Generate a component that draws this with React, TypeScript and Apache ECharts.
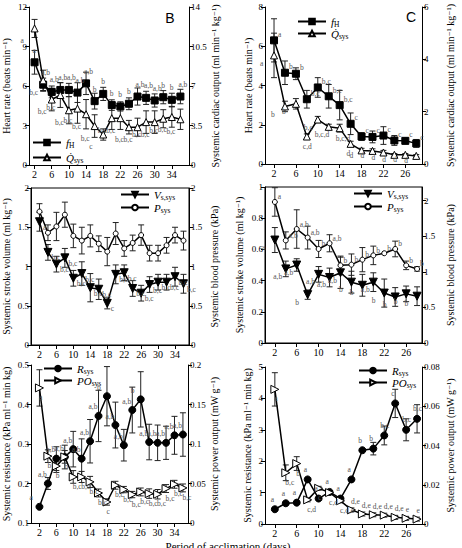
import React, { useEffect, useRef } from "react";
import * as echarts from "echarts";

// Sampling days
const daysLong = [2, 4, 6, 8, 10, 12, 14, 16, 18, 20, 22, 24, 26, 28, 30, 32, 34, 36];
const daysShort = [2, 4, 6, 8, 10, 12, 14, 16, 18, 20, 22, 24, 26, 28];
const tickDaysLong = [2, 6, 10, 14, 18, 22, 26, 30, 34];
const tickDaysShort = [2, 6, 10, 14, 18, 22, 26];

// Panel B: heart rate and cardiac output
const fhB = [7.8, 6.1, 5.55, 5.7, 5.7, 5.5, 6.2, 4.85, 5.4, 4.55, 4.45, 4.65, 5.2, 5.1, 4.9, 5.15, 4.95, 5.2];
const fhBse = [0.9, 0.5, 0.45, 0.55, 0.5, 0.75, 0.85, 0.6, 0.5, 0.4, 0.35, 0.45, 0.65, 0.5, 0.5, 0.5, 0.5, 0.55];
const fhBsig = ["a", "a,b", "a,b", "a,b", "a,b", "a,b", "a,b", "b", "b", "b", "b", "b", "a,b", "a,b", "a,b", "b", "b", "a,b"];
const qB = [12.1, 7.5, 5.8, 6.2, 4.85, 5.0, 4.5, 3.45, 2.7, 4.15, 4.15, 3.35, 3.35, 3.8, 3.8, 4.1, 4.25, 4.05];
const qBse = [0.8, 0.9, 1.0, 1.1, 1.2, 1.3, 1.3, 1.0, 0.5, 1.0, 1.0, 0.6, 0.8, 1.0, 1.0, 0.8, 0.9, 0.9];
const qBsig = ["a", "b,c", "b,c", "b,c", "b,c", "b,c", "b,c", "b,c", "c", "b,c", "b,c", "b,c", "b,c", "b,c", "b,c", "b,c", "b,c", "b,c"];

// Panel C: heart rate and cardiac output
const fhC = [6.3, 4.65, 4.6, 3.3, 3.9, 3.45, 3.0, 2.05, 1.4, 1.38, 1.45, 1.2, 1.18, 1.05];
const fhCse = [1.1, 0.6, 0.3, 0.45, 0.5, 0.6, 0.75, 0.55, 0.2, 0.3, 0.45, 0.25, 0.15, 0.2];
const fhCsig = ["a", "b", "b", "b,c", "b,c", "b,c", "b,c", "c", "c", "c", "c", "c", "c", "c"];
const qC = [4.15, 2.2, 2.3, 1.05, 1.7, 1.42, 1.37, 0.77, 0.52, 0.5, 0.44, 0.35, 0.35, 0.31];
const qCse = [0.85, 0.2, 0.2, 0.1, 0.12, 0.1, 0.15, 0.1, 0.08, 0.08, 0.08, 0.05, 0.05, 0.05];
const qCsig = ["a", "b", "b", "c,d", "b,c", "b,c,d", "b,c,d", "d", "d", "d", "d", "d", "d", "d"];

// Stroke volume and blood pressure (left column)
const vsL = [1.57, 1.18, 1.03, 1.11, 0.85, 0.91, 0.73, 0.71, 0.53, 0.9, 0.92, 0.72, 0.66, 0.77, 0.8, 0.8, 0.87, 0.78];
const vsLse = [0.12, 0.1, 0.1, 0.12, 0.1, 0.15, 0.18, 0.13, 0.07, 0.12, 0.1, 0.1, 0.1, 0.1, 0.1, 0.1, 0.12, 0.12];
const vsLsig = ["a", "b,c", "b,c", "b,c", "b,c", "b,c", "b,c", "b,c", "c", "b,c", "b,c", "b,c", "b,c", "b,c", "b,c", "b,c", "b,c", "b,c"];
const psL = [1.7, 1.43, 1.51, 1.66, 1.39, 1.33, 1.39, 1.29, 1.19, 1.42, 1.23, 1.3, 1.4, 1.17, 1.17, 1.27, 1.4, 1.33];
const psLse = [0.1, 0.1, 0.18, 0.16, 0.15, 0.17, 0.14, 0.1, 0.18, 0.14, 0.1, 0.1, 0.13, 0.1, 0.1, 0.1, 0.1, 0.12];

// Stroke volume and blood pressure (right column)
const vsR = [0.66, 0.475, 0.5, 0.31, 0.44, 0.42, 0.45, 0.39, 0.37, 0.39, 0.32, 0.295, 0.315, 0.3];
const vsRse = [0.08, 0.05, 0.04, 0.03, 0.05, 0.06, 0.1, 0.07, 0.07, 0.06, 0.09, 0.06, 0.05, 0.06];
const vsRsig = ["a", "a,b", "a,b", "b", "a,b", "a,b", "a,b", "b", "b", "a,b", "b", "b", "b", "b"];
const psR = [1.98, 1.44, 1.6, 1.48, 1.32, 1.4, 1.09, 1.1, 1.17, 1.23, 1.26, 1.32, 1.09, 1.04];
const psRse = [0.2, 0.12, 0.27, 0.16, 0.12, 0.12, 0.13, 0.15, 0.17, 0.13, 0.0, 0.11, 0.06, 0.03];
const psRsig = ["a", "a,b", "a,b", "a,b", "b", "a,b", "b", "b", "b", "b", "b", "b", "b", "b"];

// Resistance and power output (left column)
const rL = [0.141, 0.2, 0.263, 0.267, 0.287, 0.263, 0.307, 0.371, 0.421, 0.348, 0.297, 0.386, 0.413, 0.305, 0.303, 0.303, 0.322, 0.324];
const rLse = [0.0, 0.015, 0.03, 0.03, 0.045, 0.05, 0.055, 0.065, 0.075, 0.058, 0.04, 0.058, 0.07, 0.045, 0.045, 0.042, 0.048, 0.055];
const rLsig = ["a", "a,b", "a,b", "a,b", "a,b", "a,b", "a,b", "a,b", "b", "a,b", "a,b", "a,b", "b", "a,b", "a,b", "a,b", "a,b", "a,b"];
const poL = [0.171, 0.0846, 0.072, 0.0837, 0.0583, 0.0583, 0.052, 0.038, 0.0266, 0.0478, 0.0423, 0.036, 0.0393, 0.0372, 0.0364, 0.0436, 0.049, 0.0444];
const poLse = [0.023, 0.008, 0.008, 0.008, 0.008, 0.007, 0.007, 0.005, 0.004, 0.005, 0.004, 0.004, 0.005, 0.006, 0.006, 0.005, 0.005, 0.005];
const poLsig = ["a", "b", "b", "b", "b,c", "b,c", "b,c", "b,c", "c", "b,c", "b,c", "b,c", "b,c", "b,c", "b,c", "b,c", "b,c", "b,c"];

// Resistance and power output (right column)
const rR = [0.47, 0.66, 0.68, 1.42, 0.81, 1.02, 0.81, 1.42, 2.35, 2.4, 2.82, 3.84, 3.0, 3.35];
const rRse = [0.05, 0.05, 0.05, 0.05, 0.05, 0.05, 0.05, 0.05, 0.05, 0.2, 0.3, 0.45, 0.35, 0.45];
const rRsig = ["a", "a", "a", "a", "a", "a", "a", "a", "b", "b", "b,c", "c", "b,c", "b,c"];
const poR = [0.0686, 0.0261, 0.0308, 0.0123, 0.0182, 0.016, 0.0118, 0.0072, 0.0051, 0.0047, 0.0045, 0.0034, 0.0029, 0.0025];
const poRse = [0.0085, 0.004, 0.0035, 0.001, 0.001, 0.001, 0.001, 0.001, 0.001, 0.001, 0.001, 0.001, 0.001, 0.001];
const poRsig = ["a", "b,c", "b", "c,d", "c", "c,d", "c,d,e", "d,e", "d,e", "d,e", "d,e", "d,e", "e", "e"];

const SERIF = "'Liberation Serif', 'DejaVu Serif', serif";

const SYM = {
  square: { symbol: "rect", size: 7, fill: "#000" },
  openTri: { symbol: "triangle", size: 7, fill: "#fff" },
  downTri: { symbol: "path://M0,0L10,0L5,9Z", size: 8, fill: "#000" },
  openDot: { symbol: "circle", size: 5, fill: "#fff" },
  dot: { symbol: "circle", size: 7, fill: "#000" },
  rightTri: { symbol: "path://M0,0L9,5L0,10Z", size: 8, fill: "#fff" },
};

const LEGEND_TEXT: Record<string, string> = {
  fH: "{i|f}{s|H}",
  Qsys: "{i|Q\u0307}{s|sys}",
  Vs: "{i|V}{s|s,sys}",
  Psys: "{i|P}{s|sys}",
  Rsys: "{i|R}{s|sys}",
  POsys: "{i|PO}{s|sys}",
};

type LabelPlacement = number[] | string | ((y: number) => number[]);

function lineSeries(
  name: string,
  xs: number[],
  ys: number[],
  sym: { symbol: string; size: number; fill: string },
  panel: number,
  axis: number,
  letters: string[] | null,
  labelPos: LabelPlacement
) {
  // Letters of low-lying points can be moved so they stay clear of neighbours.
  const data = xs.map((x, i) =>
    typeof labelPos === "function"
      ? { value: [x, ys[i]], label: { position: labelPos(ys[i]) } }
      : [x, ys[i]]
  );
  return {
    type: "line",
    name,
    color: "#000",
    xAxisIndex: panel,
    yAxisIndex: axis,
    data,
    symbol: sym.symbol,
    symbolSize: sym.size,
    showAllSymbol: true,
    z: 4,
    lineStyle: { color: "#000", width: 1.5 },
    itemStyle: { color: sym.fill, borderColor: "#000", borderWidth: 1 },
    label: letters
      ? {
          show: true,
          position: typeof labelPos === "function" ? "top" : labelPos,
          formatter: (p: any) => letters[p.dataIndex] || "",
          fontSize: 7.5,
          color: "#555",
          textBorderWidth: 0,
          textBorderColor: "transparent",
          fontFamily: SERIF,
        }
      : { show: false },
    emphasis: { disabled: true },
  };
}

function errorSeries(xs: number[], ys: number[], se: number[], panel: number, axis: number) {
  return {
    type: "custom",
    color: "#222",
    xAxisIndex: panel,
    yAxisIndex: axis,
    z: 2,
    silent: true,
    data: xs.map((x, i) => [x, ys[i], se[i]]),
    encode: { x: 0, y: 1 },
    renderItem: (_params: any, api: any) => {
      const x = api.value(0);
      const y = api.value(1);
      const e = api.value(2);
      if (!e) return { type: "group", children: [] };
      const hi = api.coord([x, y + e]);
      const lo = api.coord([x, y - e]);
      const w = 3;
      const style = { stroke: "#222", lineWidth: 1 };
      return {
        type: "group",
        children: [
          { type: "line", shape: { x1: hi[0], y1: hi[1], x2: lo[0], y2: lo[1] }, style },
          { type: "line", shape: { x1: hi[0] - w, y1: hi[1], x2: hi[0] + w, y2: hi[1] }, style },
          { type: "line", shape: { x1: lo[0] - w, y1: lo[1], x2: lo[0] + w, y2: lo[1] }, style },
        ],
      };
    },
  };
}

const tickText = { fontSize: 9, color: "#000", fontFamily: SERIF };
const nameText = { fontSize: 10, color: "#000", fontFamily: SERIF };

function xAxis(panel: number, min: number, max: number, ticks: number[]) {
  return {
    gridIndex: panel,
    type: "value",
    min,
    max,
    axisLine: { onZero: false, lineStyle: { color: "#000", width: 1 } },
    axisTick: { length: 4, customValues: ticks, lineStyle: { color: "#000" } },
    axisLabel: { ...tickText, fontSize: 10, margin: 4, customValues: ticks },
    splitLine: { show: false },
  };
}

function yAxis(
  panel: number,
  side: "left" | "right",
  min: number,
  max: number,
  step: number | null,
  name: string,
  gap: number,
  custom?: number[]
) {
  const ax: any = {
    gridIndex: panel,
    type: "value",
    position: side,
    min,
    max,
    name,
    nameLocation: "middle",
    nameGap: gap,
    nameTextStyle: nameText,
    axisLine: { show: true, onZero: false, lineStyle: { color: "#000", width: 1 } },
    axisTick: { show: true, length: 4, lineStyle: { color: "#000" } },
    axisLabel: { ...tickText, margin: 2 },
    splitLine: { show: false },
  };
  if (step != null) ax.interval = step;
  if (custom) {
    ax.axisTick.customValues = custom;
    ax.axisLabel.customValues = custom;
  }
  return ax;
}

function legend(names: string[], left: number, top: number, gap: number) {
  return {
    data: names,
    left,
    top,
    orient: "vertical",
    itemWidth: 28,
    itemHeight: 7,
    itemGap: gap,
    padding: 0,
    selectedMode: false,
    formatter: (n: string) => LEGEND_TEXT[n.split("_")[0]],
    textStyle: {
      fontFamily: SERIF,
      fontSize: 10,
      color: "#000",
      rich: {
        i: { fontStyle: "italic", fontSize: 11, fontFamily: SERIF, color: "#000" },
        s: { fontSize: 7.5, fontFamily: SERIF, color: "#000", padding: [5, 0, 0, 0] },
      },
    },
  };
}

export default function App() {
  const ref = useRef<HTMLDivElement>(null);

  useEffect(() => {
    if (!ref.current) return;
    const chart = echarts.init(ref.current, null, { renderer: "svg" });

    const grids = [
      { left: 29, top: 7, width: 160, height: 158 },
      { left: 265, top: 7, width: 157, height: 157 },
      { left: 29, top: 188, width: 160, height: 157, show: true, borderColor: "#000", borderWidth: 1 },
      { left: 265, top: 187, width: 157, height: 156, show: true, borderColor: "#000", borderWidth: 1 },
      { left: 29, top: 365, width: 159, height: 158 },
      { left: 265, top: 367, width: 157, height: 157 },
    ];

    const xAxes = [
      xAxis(0, 0.7, 38, tickDaysLong),
      xAxis(1, 0.35, 29.05, tickDaysShort),
      xAxis(2, 0, 37.3, tickDaysLong),
      xAxis(3, 0.2, 28.9, tickDaysShort),
      xAxis(4, 0, 37.2, tickDaysLong),
      xAxis(5, 0.2, 28.9, tickDaysShort),
    ];

    const yAxes = [
      yAxis(0, "left", 0, 12, 3, "Heart rate (beats min\u207B\u00B9)", 18),
      yAxis(0, "right", 0, 14, 3.5, "Systemic cardiac output (ml min\u207B\u00B9 kg\u207B\u00B9)", 20),
      yAxis(1, "left", 0, 8, 2, "Heart rate (beats min\u207B\u00B9)", 12),
      yAxis(1, "right", 0, 6, 2, "Systemic cardiac output (ml min\u207B\u00B9 kg\u207B\u00B9)", 23),
      yAxis(2, "left", 0, 2, 0.5, "Systemic stroke volume (ml kg\u207B\u00B9)", 20),
      yAxis(2, "right", 0, 2, 0.5, "Systemic blood pressure (kPa)", 20),
      yAxis(3, "left", 0, 1, 0.2, "Systemic stroke volume (ml kg\u207B\u00B9)", 21),
      yAxis(3, "right", 0, 2.19, null, "Systemic blood pressure (kPa)", 23, [0, 0.5, 1, 1.5, 2]),
      yAxis(4, "left", 0.1, 0.5, 0.1, "Systemic resistance (kPa ml\u207B\u00B9 min kg)", 20),
      yAxis(4, "right", 0, 0.2, 0.05, "Systemic power output (mW g\u207B\u00B9)", 20),
      yAxis(5, "left", 0, 5, 1, "Systemic resistance (kPa ml\u207B\u00B9 min kg)", 13),
      yAxis(5, "right", 0, 0.08, 0.02, "Systemic power output (mW g\u207B\u00B9)", 23),
    ];

    const series: any[] = [
      // B
      errorSeries(daysLong, fhB, fhBse, 0, 0),
      errorSeries(daysLong, qB, qBse, 0, 1),
      lineSeries("fH_B", daysLong, fhB, SYM.square, 0, 0, fhBsig, [2, -12]),
      lineSeries("Qsys_B", daysLong, qB, SYM.openTri, 0, 1, qBsig, [-10, 12]),
      // C
      errorSeries(daysShort, fhC, fhCse, 1, 2),
      errorSeries(daysShort, qC, qCse, 1, 3),
      lineSeries("fH_C", daysShort, fhC, SYM.square, 1, 2, fhCsig, [8, -6]),
      lineSeries("Qsys_C", daysShort, qC, SYM.openTri, 1, 3, qCsig, (y: number) =>
        y > 1.4 ? [-10, 8] : y > 0.6 ? [0, 10] : [-8, 5]
      ),
      // stroke volume / pressure, left
      errorSeries(daysLong, vsL, vsLse, 2, 4),
      errorSeries(daysLong, psL, psLse, 2, 5),
      lineSeries("Vs_L", daysLong, vsL, SYM.downTri, 2, 4, vsLsig, [8, 6]),
      lineSeries("Psys_L", daysLong, psL, SYM.openDot, 2, 5, null, "top"),
      // stroke volume / pressure, right
      errorSeries(daysShort, vsR, vsRse, 3, 6),
      errorSeries(daysShort, psR, psRse, 3, 7),
      lineSeries("Vs_R", daysShort, vsR, SYM.downTri, 3, 6, vsRsig, [-8, 8]),
      lineSeries("Psys_R", daysShort, psR, SYM.openDot, 3, 7, psRsig, [6, -6]),
      // resistance / power output, left
      errorSeries(daysLong, rL, rLse, 4, 8),
      errorSeries(daysLong, poL, poLse, 4, 9),
      lineSeries("Rsys_L", daysLong, rL, SYM.dot, 4, 8, rLsig, [-6, -9]),
      lineSeries("POsys_L", daysLong, poL, SYM.rightTri, 4, 9, poLsig, [4, 10]),
      // resistance / power output, right
      errorSeries(daysShort, rR, rRse, 5, 10),
      errorSeries(daysShort, poR, poRse, 5, 11),
      lineSeries("Rsys_R", daysShort, rR, SYM.dot, 5, 10, rRsig, [0, -10]),
      lineSeries("POsys_R", daysShort, poR, SYM.rightTri, 5, 11, poRsig, (y: number) => (y < 0.01 ? [4, -8] : [4, 10])),
    ];

    chart.setOption({
      animation: false,
      backgroundColor: "#fff",
      grid: grids,
      xAxis: xAxes,
      yAxis: yAxes,
      legend: [
        legend(["fH_B", "Qsys_B"], 32, 137, 3),
        legend(["fH_C", "Qsys_C"], 297, 16, 0),
        legend(["Vs_L", "Psys_L"], 120, 189, 1),
        legend(["Vs_R", "Psys_R"], 353, 188, 1),
        legend(["Rsys_L", "POsys_L"], 43, 363, 0),
        legend(["Rsys_R", "POsys_R"], 358, 365, 0),
      ],
      graphic: [
        {
          type: "text",
          x: 170,
          y: 18,
          style: { text: "B", fontSize: 14, fontFamily: "'Liberation Sans', Arial, sans-serif", fill: "#000", textAlign: "center", textVerticalAlign: "middle" },
        },
        {
          type: "text",
          x: 411,
          y: 17,
          style: { text: "C", fontSize: 14, fontFamily: "'Liberation Sans', Arial, sans-serif", fill: "#000", textAlign: "center", textVerticalAlign: "middle" },
        },
        {
          type: "text",
          x: 228,
          y: 540,
          style: { text: "Period of acclimation (days)", fontSize: 11, fontFamily: SERIF, fill: "#000", textAlign: "center", textVerticalAlign: "top" },
        },
      ],
      series,
    });

    return () => chart.dispose();
  }, []);

  return <div ref={ref} style={{ position: "fixed", left: 0, top: 0, width: 462, height: 548 }} />;
}
